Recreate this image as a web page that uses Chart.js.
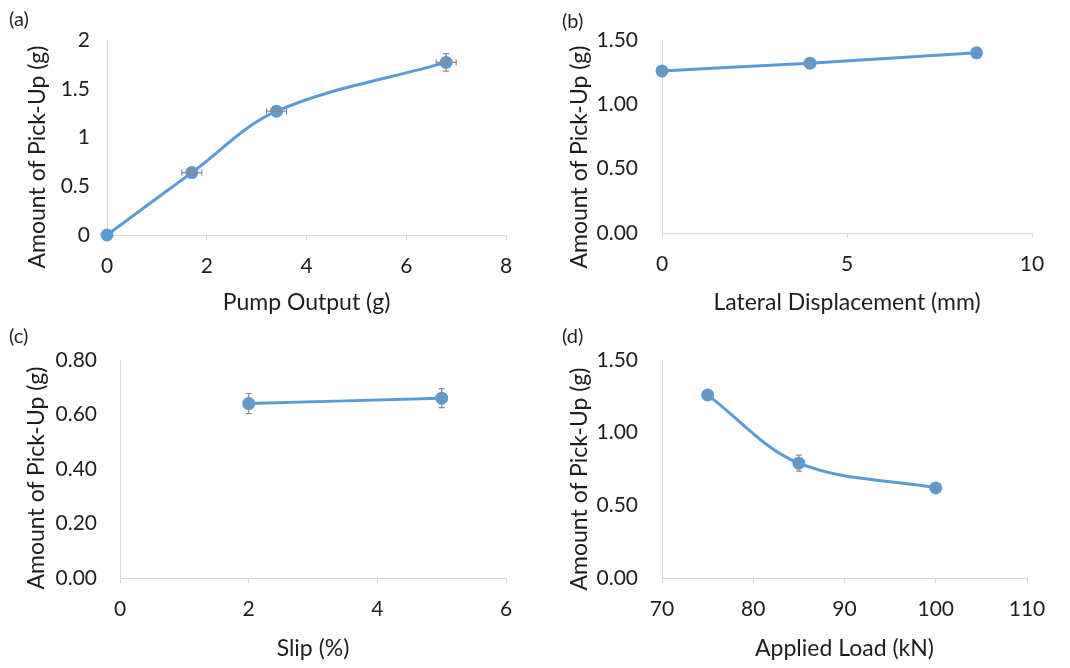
<!DOCTYPE html>
<html>
<head>
<meta charset="utf-8">
<script src="https://cdn.jsdelivr.net/npm/chart.js@4.4.1/dist/chart.umd.min.js"></script>
<style>
  body { margin: 0; background: #fff; }
  #wrap { position: relative; width: 1070px; height: 668px; font-family: Lato, sans-serif; }
  .panel { position: absolute; }
  .tag { position: absolute; font-size: 20px; color: #222; }
  .ytitle { position: absolute; font-size: 23px; color: #1e1e1e; white-space: nowrap;
            transform: translate(-50%, -50%) rotate(-90deg); }
</style>
</head>
<body>
<div id="wrap">
  <div class="panel" style="left:0;top:0;width:535px;height:320px"><canvas id="chartA"></canvas></div>
  <div class="panel" style="left:535px;top:0;width:535px;height:320px"><canvas id="chartB"></canvas></div>
  <div class="panel" style="left:0;top:320px;width:535px;height:348px"><canvas id="chartC"></canvas></div>
  <div class="panel" style="left:535px;top:320px;width:535px;height:348px"><canvas id="chartD"></canvas></div>
  <div class="tag" style="left:9px;top:6px">(a)</div>
  <div class="tag" style="left:562px;top:8px">(b)</div>
  <div class="tag" style="left:9px;top:323px">(c)</div>
  <div class="tag" style="left:562px;top:323px">(d)</div>
  <div class="ytitle" style="left:36px;top:157px">Amount of Pick-Up (g)</div>
  <div class="ytitle" style="left:578px;top:157px">Amount of Pick-Up (g)</div>
  <div class="ytitle" style="left:35px;top:478px">Amount of Pick-Up (g)</div>
  <div class="ytitle" style="left:578px;top:479px">Amount of Pick-Up (g)</div>
</div>
<script>
/* (a) pump output */
const pumpOutput = [0, 1.7, 3.4, 6.8];
const pumpOutputErr = [0, 0.2, 0.2, 0.2];
const pickUpA = [0, 0.64, 1.27, 1.77];
const pickUpAErr = [0, 0.03, 0.02, 0.09];

/* (b) lateral displacement */
const lateralDisp = [0, 4, 8.5];
const pickUpB = [1.26, 1.32, 1.40];
const pickUpBErr = [0.01, 0.03, 0.01];

/* (c) slip */
const slipPct = [2, 5];
const pickUpC = [0.64, 0.66];
const pickUpCErr = [0.037, 0.035];

/* (d) applied load */
const appliedLoad = [75, 85, 100];
const pickUpD = [1.26, 0.79, 0.62];
const pickUpDErr = [0.01, 0.055, 0.02];

const blue = '#5b9bd5';
const axisGray = '#d9d9d9';
const textColor = '#1e1e1e';
const fontFamily = 'Lato, sans-serif';

// error bars drawn through the chart scales
const errorBars = {
    id: 'errorBars',
    afterDatasetsDraw(chart, args, opts) {
        const ctx = chart.ctx;
        const xs = chart.scales.x, ys = chart.scales.y;
        const pts = chart.data.datasets[0].data;
        ctx.save();
        ctx.strokeStyle = '#8c8c8c';
        ctx.lineWidth = 1.2;
        pts.forEach((p, i) => {
            const px = xs.getPixelForValue(p.x), py = ys.getPixelForValue(p.y);
            const ex = (opts.xErr || [])[i] || 0, ey = (opts.yErr || [])[i] || 0;
            if (ey) {
                const t = ys.getPixelForValue(p.y + ey), b = ys.getPixelForValue(p.y - ey);
                ctx.beginPath();
                ctx.moveTo(px, t); ctx.lineTo(px, b);
                ctx.moveTo(px - 3, t); ctx.lineTo(px + 3, t);
                ctx.moveTo(px - 3, b); ctx.lineTo(px + 3, b);
                ctx.stroke();
            }
            if (ex) {
                const l = xs.getPixelForValue(p.x - ex), r = xs.getPixelForValue(p.x + ex);
                ctx.beginPath();
                ctx.moveTo(l, py); ctx.lineTo(r, py);
                ctx.moveTo(l, py - 3); ctx.lineTo(l, py + 3);
                ctx.moveTo(r, py - 3); ctx.lineTo(r, py + 3);
                ctx.stroke();
            }
        });
        ctx.restore();
    }
};

function makePanel(id, xs, ys, xErr, yErr, xAxis, yAxis, xTitle, box) {
    new Chart(document.getElementById(id), {
        type: 'line',
        data: {
            datasets: [{
                data: xs.map((x, i) => ({ x: x, y: ys[i] })),
                borderColor: blue,
                backgroundColor: blue,
                borderWidth: 3,
                pointRadius: 5,
                pointHoverRadius: 5,
                tension: 0.35,
                clip: false
            }]
        },
        plugins: [errorBars],
        options: {
            responsive: true,
            maintainAspectRatio: false,
            animation: false,
            events: [],
            layout: { padding: { left: 0, top: box.top, right: box.right, bottom: 0 } },
            scales: {
                x: {
                    type: 'linear',
                    min: xAxis[0], max: xAxis[1],
                    afterFit: s => { s.height = box.xh; },
                    ticks: { stepSize: xAxis[2], color: textColor, padding: 14,
                             font: { family: fontFamily, size: 21 } },
                    grid: { drawOnChartArea: false, tickLength: 5, color: axisGray },
                    border: { color: axisGray, width: 1 },
                    title: { display: true, text: xTitle, color: textColor,
                             font: { family: fontFamily, size: 23 }, padding: { top: 0, bottom: box.xtPad } }
                },
                y: {
                    type: 'linear',
                    min: yAxis[0], max: yAxis[1],
                    afterFit: s => { s.width = box.yw; },
                    ticks: { stepSize: yAxis[2], color: textColor, padding: box.ytPad,
                             font: { family: fontFamily, size: 21 },
                             callback: v => yAxis[3] == null ? String(v) : v.toFixed(yAxis[3]) },
                    grid: { display: false, drawTicks: false },
                    border: { color: axisGray, width: 1 },
                    title: { display: false }
                }
            },
            plugins: {
                legend: { display: false },
                tooltip: { enabled: false },
                errorBars: { xErr: xErr, yErr: yErr }
            }
        }
    });
}

makePanel('chartA', pumpOutput, pickUpA, pumpOutputErr, pickUpAErr,
    [0, 8, 2], [0, 2, 0.5, null], 'Pump Output (g)',
    { top: 40, right: 29, xh: 85, yw: 107, ytPad: 17, xtPad: 4 });

makePanel('chartB', lateralDisp, pickUpB, null, pickUpBErr,
    [0, 10, 5], [0, 1.5, 0.5, 2], 'Lateral Displacement (mm)',
    { top: 40, right: 38, xh: 87, yw: 127, ytPad: 24, xtPad: 4 });

makePanel('chartC', slipPct, pickUpC, null, pickUpCErr,
    [0, 6, 2], [0, 0.8, 0.2, 2], 'Slip (%)',
    { top: 40, right: 29, xh: 90, yw: 120, ytPad: 23, xtPad: 6 });

makePanel('chartD', appliedLoad, pickUpD, null, pickUpDErr,
    [70, 110, 10], [0, 1.5, 0.5, 2], 'Applied Load (kN)',
    { top: 40, right: 43, xh: 90, yw: 127, ytPad: 24, xtPad: 6 });
</script>
</body>
</html>
